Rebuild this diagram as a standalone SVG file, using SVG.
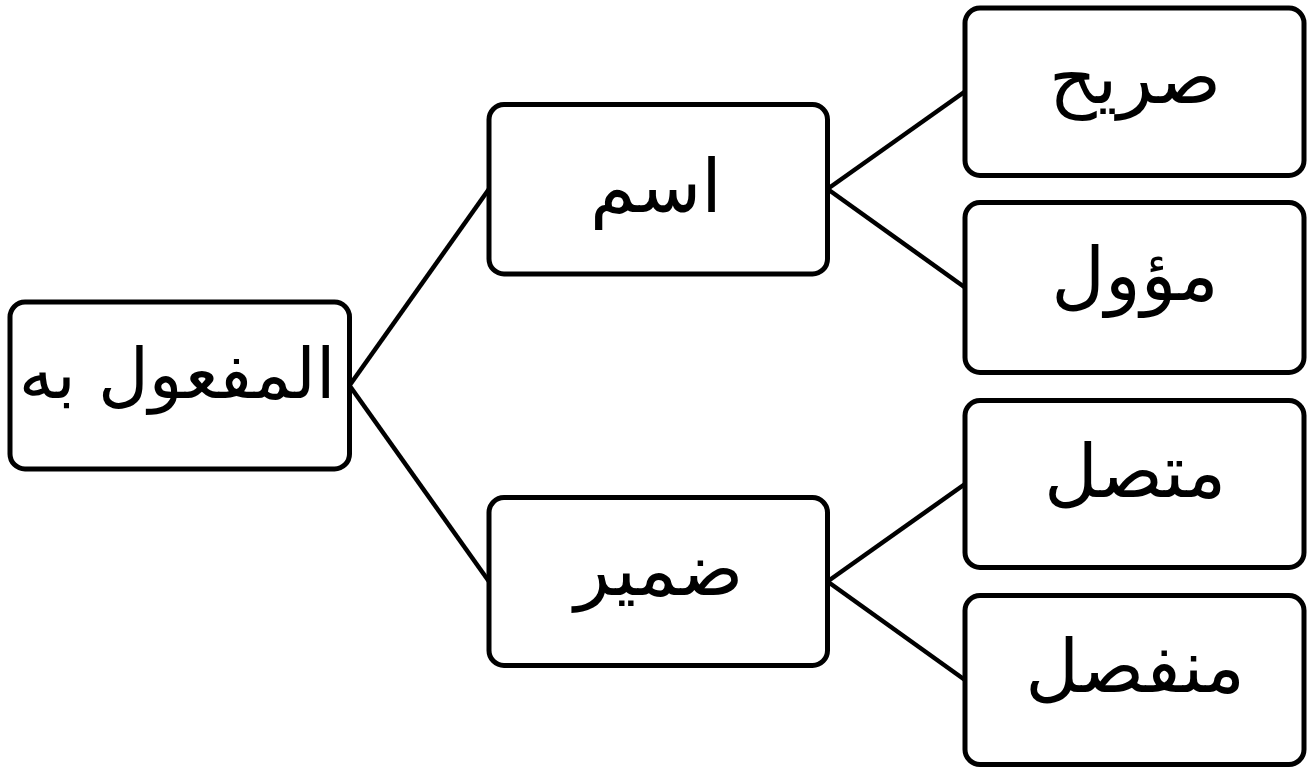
<svg xmlns="http://www.w3.org/2000/svg" width="1312" height="769" viewBox="0 0 1312 769">
<style>
.box{fill:#fff;stroke:#000;stroke-width:5}
.lbl{font-family:"DejaVu Sans",sans-serif;font-size:74px;fill:#000;text-anchor:middle}
.con{stroke:#000;stroke-width:4.5;fill:none}
</style>
<rect width="1312" height="769" fill="#fff"/>
<g id="connectors">
<line class="con" x1="349.5" y1="385.5" x2="489" y2="189"/>
<line class="con" x1="349.5" y1="385.5" x2="489" y2="581.5"/>
<line class="con" x1="827.5" y1="189" x2="965" y2="91.5"/>
<line class="con" x1="827.5" y1="189" x2="965" y2="287.5"/>
<line class="con" x1="827.5" y1="581.5" x2="965" y2="484"/>
<line class="con" x1="827.5" y1="581.5" x2="965" y2="680"/>
</g>
<g id="root"><rect class="box" x="10" y="302" width="339.5" height="167" rx="15"/><text class="lbl" x="177" y="398" style="font-size:70px">المفعول به</text></g>
<g id="ism"><rect class="box" x="489" y="104.5" width="338.5" height="169.5" rx="15"/><text class="lbl" x="656" y="212">اسم</text></g>
<g id="damir"><rect class="box" x="489" y="497.5" width="338.5" height="168" rx="15"/><text class="lbl" x="659" y="595">ضمير</text></g>
<g id="sarih"><rect class="box" x="965" y="8" width="339" height="167.5" rx="15"/><text class="lbl" x="1135" y="103">صريح</text></g>
<g id="muawwal"><rect class="box" x="965" y="202.5" width="339" height="170" rx="15"/><text class="lbl" x="1135" y="300">مؤول</text></g>
<g id="muttasil"><rect class="box" x="965" y="400.5" width="339" height="167" rx="15"/><text class="lbl" x="1135" y="497">متصل</text></g>
<g id="munfasil"><rect class="box" x="965" y="595.5" width="339" height="169" rx="15"/><text class="lbl" x="1135" y="692">منفصل</text></g>
</svg>
